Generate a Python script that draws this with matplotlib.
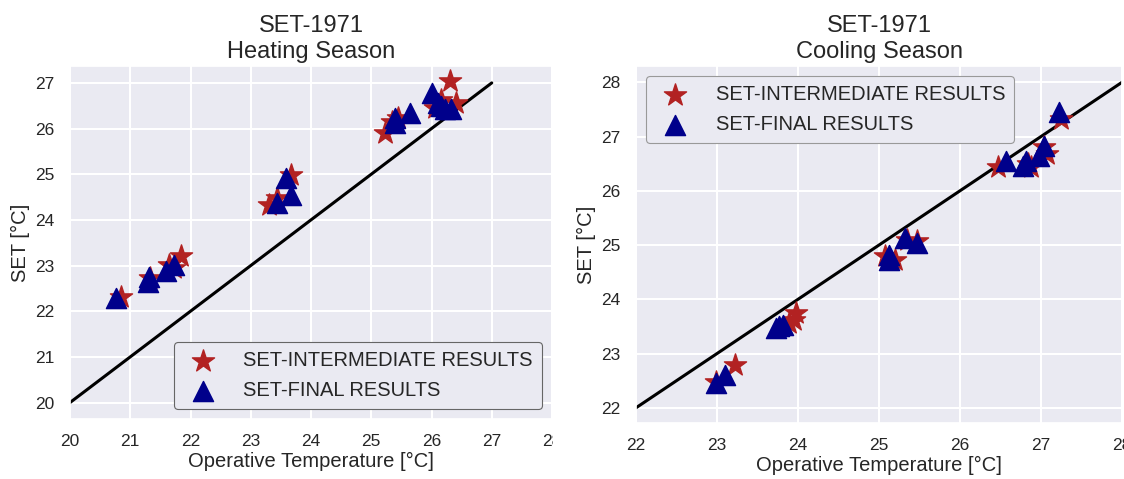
import numpy as np
import seaborn as sns
import matplotlib
matplotlib.use("Agg")
from matplotlib import pyplot as plt
from matplotlib.transforms import Bbox, TransformedBbox

sns.set_theme(style="darkgrid")
plt.rcParams['font.family'] = ['Liberation Sans', 'DejaVu Sans']

# heating season
heat_int_x = [20.85, 21.32, 21.65, 21.73, 21.84, 23.30, 23.44, 23.66, 25.22, 25.34, 25.45, 26.30, 26.41, 26.16, 26.22, 26.05]
heat_int_y = [22.32, 22.73, 23.02, 22.95, 23.20, 24.33, 24.48, 24.99, 25.90, 26.15, 26.23, 27.04, 26.56, 26.63, 26.42, 26.45]
heat_fin_x = [20.77, 21.29, 21.31, 21.60, 21.73, 23.44, 23.66, 23.58, 25.39, 25.39, 25.64, 26.00, 26.10, 26.22, 26.33, 26.16]
heat_fin_y = [22.29, 22.65, 22.76, 22.87, 23.02, 24.37, 24.55, 24.92, 26.12, 26.23, 26.34, 26.78, 26.56, 26.42, 26.42, 26.49]

# cooling season
cool_int_x = [22.99, 23.22, 23.97, 23.95, 23.89, 25.08, 25.20, 25.34, 25.47, 26.47, 26.84, 26.88, 27.08, 27.04, 27.25]
cool_int_y = [22.48, 22.79, 23.75, 23.62, 23.56, 24.79, 24.73, 25.10, 25.07, 26.43, 26.49, 26.43, 26.67, 26.80, 27.32]
cool_fin_x = [22.99, 23.10, 23.73, 23.81, 23.77, 25.12, 25.12, 25.32, 25.47, 26.57, 26.78, 26.82, 26.98, 27.04, 27.22]
cool_fin_y = [22.45, 22.61, 23.47, 23.53, 23.50, 24.73, 24.82, 25.13, 25.04, 26.55, 26.46, 26.55, 26.64, 26.83, 27.45]

red = '#B22222'
blue = '#00008B'

fig = plt.figure(figsize=(11.24, 4.79), dpi=100)
ax1 = fig.add_axes([70/1124, 60/479, 482/1124, 353/479])
ax2 = fig.add_axes([636/1124, 56/479, 486/1124, 357/479])


def panel(ax, xi, yi, xf, yf, lo, hi, ylim, title, loc, edge):
    ax.plot([lo, hi], [lo, hi], color='black', lw=2.2, zorder=2)
    ax.scatter(xi, yi, marker='*', s=280, color=red, label='SET-INTERMEDIATE RESULTS', zorder=3)
    ax.scatter(xf, yf, marker='^', s=210, color=blue, label='SET-FINAL RESULTS', zorder=4)
    ax.set_xlim(lo, 28)
    ax.set_ylim(*ylim)
    ax.set_xticks(range(lo, 29))
    ax.set_yticks(range(int(np.ceil(ylim[0])), int(ylim[1]) + 1))
    ax.tick_params(labelsize=12.5, colors='0.15', pad=5)
    ax.grid(color='white', lw=1.5)
    ax.set_title(title, fontsize=17, color='0.15', pad=6)
    ax.set_xlabel('Operative Temperature [°C]', fontsize=14.5, color='0.15', labelpad=2)
    ax.set_ylabel('SET [°C]', fontsize=14.5, color='0.15', labelpad=4)
    leg = ax.legend(loc=loc, fontsize=14.5, handletextpad=1.0, borderpad=0.45,
                    labelspacing=0.55, frameon=True, facecolor='#EAEAF2',
                    edgecolor=edge, framealpha=1)
    leg.get_frame().set_linewidth(0.8)
    return ax


panel(ax1, heat_int_x, heat_int_y, heat_fin_x, heat_fin_y, 20, 27, (19.64, 27.37),
      'SET-1971\nHeating Season', 'lower right', '0.4')
panel(ax2, cool_int_x, cool_int_y, cool_fin_x, cool_fin_y, 22, 28, (21.72, 28.3),
      'SET-1971\nCooling Season', 'upper left', '0.6')

# the left picture was cropped right at its last tick
clip = TransformedBbox(Bbox.from_extents(0, 0, 553/1124, 1), fig.transFigure)
lab = ax1.get_xticklabels()[-1]
lab.set_clip_box(clip)
lab.set_clip_on(True)

fig.savefig('out.png', dpi=100)
